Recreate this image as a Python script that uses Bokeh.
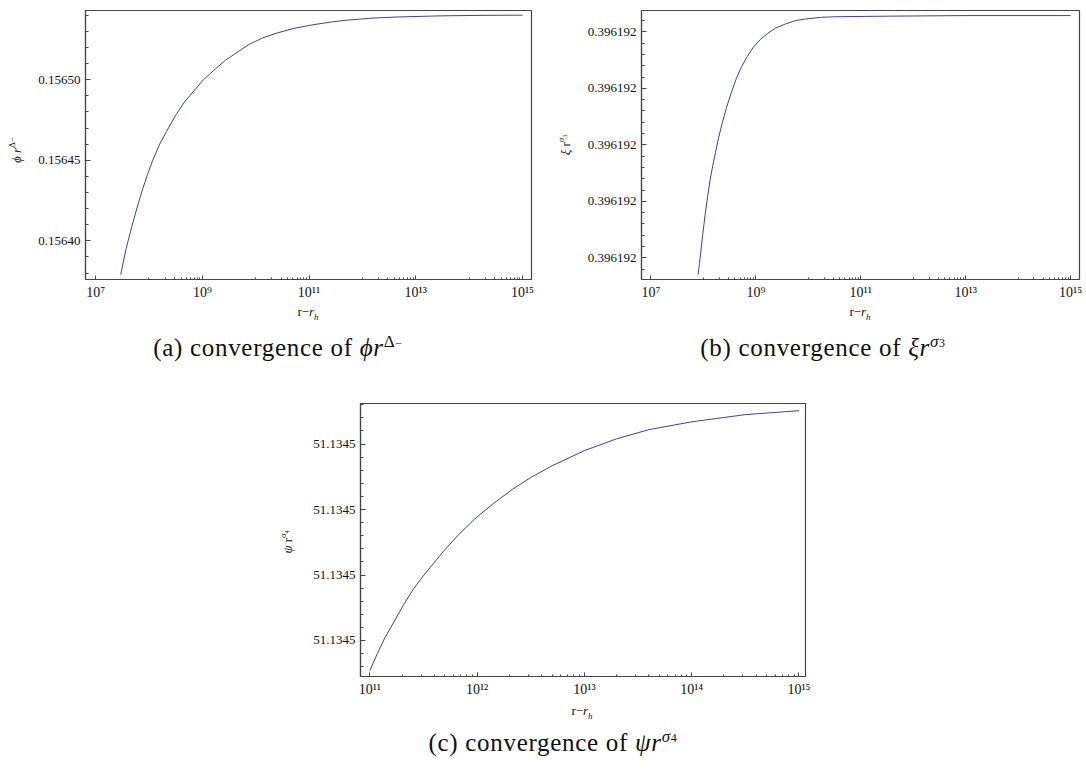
from bokeh.plotting import figure
from bokeh.models import FixedTicker, PrintfTickFormatter, Div, Spacer, Range1d
from bokeh.layouts import column, row
from bokeh.embed import file_html
from bokeh.resources import INLINE

# ---------------- data ----------------
# Panel (a): phi r^{Delta-}   (x given as log10(r - r_h))
a_log_r = [7.47, 7.57, 7.68, 7.78, 7.88, 7.97, 8.07, 8.20, 8.33, 8.50, 8.66, 8.84,
           9.02, 9.22, 9.43, 9.65, 9.88, 10.13, 10.40, 10.70, 11.05, 11.40, 11.70,
           12.20, 12.67, 13.50, 14.30, 15.00]
a_val = [0.156379, 0.156395, 0.156409, 0.156421, 0.156432, 0.156441, 0.156450,
         0.156460, 0.156468, 0.156478, 0.156486, 0.156493, 0.156500, 0.156506,
         0.156512, 0.156517, 0.156522, 0.156526, 0.156529, 0.1565318, 0.156534,
         0.1565358, 0.156537, 0.1565383, 0.156539, 0.1565397, 0.156540, 0.1565401]
a_yticks = [0.15640, 0.15645, 0.15650]
a_ylabels = ["0.15640", "0.15645", "0.15650"]

# Panel (b): xi r^{sigma_3}
b_log_r = [7.90, 7.925, 7.95, 7.99, 8.03, 8.08, 8.13, 8.18, 8.23, 8.29, 8.36, 8.44,
           8.53, 8.63, 8.73, 8.84, 8.96, 9.09, 9.22, 9.38, 9.56, 9.75, 9.95, 10.25,
           10.55, 11.55, 13.00, 15.00]
b_val = [0.3961919940, 0.3961919980, 0.3961920020, 0.3961920086, 0.3961920149,
         0.3961920216, 0.3961920278, 0.3961920328, 0.3961920372, 0.3961920426,
         0.3961920478, 0.3961920532, 0.3961920584, 0.3961920636, 0.3961920678,
         0.3961920714, 0.3961920748, 0.3961920774, 0.3961920794, 0.3961920814,
         0.3961920828, 0.3961920840, 0.3961920846, 0.3961920852, 0.3961920854,
         0.3961920856, 0.3961920858, 0.3961920858]
b_yticks = [0.39619200, 0.39619202, 0.39619204, 0.39619206, 0.39619208]
b_ylabels = ["0.396192", "0.396192", "0.396192", "0.396192", "0.396192"]

# Panel (c): psi r^{sigma_4}
c_log_r = [11.00, 11.07, 11.14, 11.23, 11.32, 11.40, 11.49, 11.59, 11.69, 11.83,
           11.98, 12.15, 12.33, 12.50, 12.70, 13.00, 13.30, 13.60, 14.00, 14.50, 15.00]
c_val = [51.13449954, 51.13449980, 51.13450004, 51.13450030, 51.13450056,
         51.13450077, 51.13450097, 51.13450117, 51.13450137, 51.13450162,
         51.13450186, 51.13450209, 51.13450231, 51.13450249, 51.13450267,
         51.13450290, 51.13450308, 51.13450322, 51.13450334, 51.13450345,
         51.13450351]
c_yticks = [51.1345, 51.134501, 51.134502, 51.134503]
c_ylabels = ["51.1345", "51.1345", "51.1345", "51.1345"]

ab_xticks = [1e7, 1e9, 1e11, 1e13, 1e15]
ab_xlabels = ["10⁷", "10⁹", "10¹¹", "10¹³", "10¹⁵"]
c_xticks = [1e11, 1e12, 1e13, 1e14, 1e15]
c_xlabels = ["10¹¹", "10¹²", "10¹³", "10¹⁴", "10¹⁵"]

x_title = "r−<i>r</i><sub style='font-size:9px'><i>h</i></sub>"
y_titles = [
    "<i>ϕ r</i><sup style='font-size:9px'>Δ−</sup>",
    "<i>ξ</i> r<sup style='font-size:9px'><i>σ</i><sub style='font-size:6px'>3</sub></sup>",
    "<i>ψ</i> r<sup style='font-size:9px'><i>σ</i><sub style='font-size:6px'>4</sub></sup>",
]
captions = [
    "(a) convergence of <i>ϕr</i><sup style='font-size:17px'>Δ<span style='font-size:12px'>−</span></sup>",
    "(b) convergence of <i>ξr</i><sup style='font-size:17px'><i>σ</i><span style='font-size:12px'>3</span></sup>",
    "(c) convergence of <i>ψr</i><sup style='font-size:17px'><i>σ</i><span style='font-size:12px'>4</span></sup>",
]

# ---------------- style ----------------
LINE = "#3f3f9f"
FRAME = "#454545"
SERIF = "Liberation Serif"
TICK_FS = "13px"


def panel(width, height, bl, br, bt, bb, xr, yr, xticks, xlabels, xminor,
          yticks, ylabels, yminor, yfmt, xs, ys):
    p = figure(width=width, height=height, x_axis_type="log",
               x_range=Range1d(*xr), y_range=Range1d(*yr),
               output_backend="svg", toolbar_location=None,
               min_border_left=bl, min_border_right=br,
               min_border_top=bt, min_border_bottom=bb)
    p.grid.visible = False
    p.outline_line_color = FRAME
    p.outline_line_width = 1.2
    p.background_fill_color = "white"
    p.border_fill_color = "white"
    p.line(xs, ys, line_color=LINE, line_width=1.0)

    xa = p.xaxis[0]
    xa.ticker = FixedTicker(ticks=xticks, minor_ticks=xminor)
    xa.major_label_overrides = dict(zip(xticks, xlabels))
    ya = p.yaxis[0]
    ya.ticker = FixedTicker(ticks=yticks, minor_ticks=yminor)
    ya.formatter = PrintfTickFormatter(format=yfmt)
    ya.major_label_overrides = dict(zip(yticks, ylabels))
    for ax in (xa, ya):
        ax.axis_line_color = FRAME
        ax.axis_line_width = 1.2
        ax.major_tick_line_color = FRAME
        ax.minor_tick_line_color = FRAME
        ax.major_tick_out = 0
        ax.minor_tick_out = 0
        ax.major_label_text_font = SERIF
        ax.major_label_text_font_size = TICK_FS
        ax.major_label_text_color = "#111111"
    xa.major_tick_in = 4
    xa.minor_tick_in = 2
    xa.major_label_standoff = 5
    xa.major_label_text_font_size = "14px"
    ya.major_tick_in = 5
    ya.minor_tick_in = 3
    ya.major_label_standoff = 5
    return p


def overlay(width, height, items):
    parts = []
    for (x, y, html, fs, rot) in items:
        tr = "translate(-50%,-50%)" + (" rotate(-90deg)" if rot else "")
        parts.append(
            f"<div style=\"position:absolute;left:{x}px;top:{y}px;transform:{tr};"
            f"white-space:nowrap;font-size:{fs}px;line-height:1.1;"
            f"{'letter-spacing:0.7px;' if fs > 18 else ''}\">{html}</div>")
    inner = (f"<div style=\"position:relative;width:{width}px;height:{height}px;"
             f"font-family:'{SERIF}';color:#111111;\">" + "".join(parts) + "</div>")
    return Div(text=inner, width=width, height=height, margin=0)


ab_xminor = [k * 10.0 ** d for d in (8, 10, 12, 14) for k in range(1, 10)]
c_xminor = [k * 10.0 ** d for d in (11, 12, 13, 14) for k in range(2, 10)]
a_yminor = [0.15638 + i * 0.00001 for i in range(17)]
b_yminor = [0.39619200 + i * 0.000000004 for i in range(-1, 23)]
c_yminor = [51.1345 + i * 0.0000002 for i in range(-2, 19)]

pa = panel(510, 302, 55, 9, 7, 20, (10 ** 6.81, 10 ** 15.17), (0.156376, 0.156543),
           ab_xticks, ab_xlabels, ab_xminor, a_yticks, a_ylabels, a_yminor, "%.5f",
           [10 ** e for e in a_log_r], a_val)
pb = panel(506, 302, 61, 7, 10, 21, (10 ** 6.82, 10 ** 15.17),
           (0.3961919923, 0.3961920876),
           ab_xticks, ab_xlabels, ab_xminor, b_yticks, b_ylabels, b_yminor, "%.6f",
           [10 ** e for e in b_log_r], b_val)
pc = panel(510, 319, 60, 5, 23, 20, (10 ** 10.913, 10 ** 15.061),
           (51.13449945, 51.13450362),
           c_xticks, c_xlabels, c_xminor, c_yticks, c_ylabels, c_yminor, "%.4f",
           [10 ** e for e in c_log_r], c_val)

ya_div = overlay(30, 302, [(16, 150, y_titles[0], 13, True)])
yb_div = overlay(40, 302, [(25, 145, y_titles[1], 13, True)])
yc_div = overlay(40, 319, [(27, 162, y_titles[2], 13, True)])

cap_ab_a = overlay(540, 78, [(308, 12, x_title, 13, False),
                             (278, 45, captions[0], 25, False)])
cap_ab_b = overlay(546, 78, [(320, 12, x_title, 13, False),
                             (283, 45, captions[1], 25, False)])
cap_c = overlay(1086, 73, [(582, 14, x_title, 13, False),
                           (553, 43, captions[2], 25, False)])

layout = column(
    row(ya_div, pa, yb_div, pb, spacing=0),
    row(cap_ab_a, cap_ab_b, spacing=0),
    row(Spacer(width=260, height=319), yc_div, pc, spacing=0),
    cap_c,
    spacing=0,
)

open("out.html", "w").write(file_html(layout, INLINE, title="convergence"))
